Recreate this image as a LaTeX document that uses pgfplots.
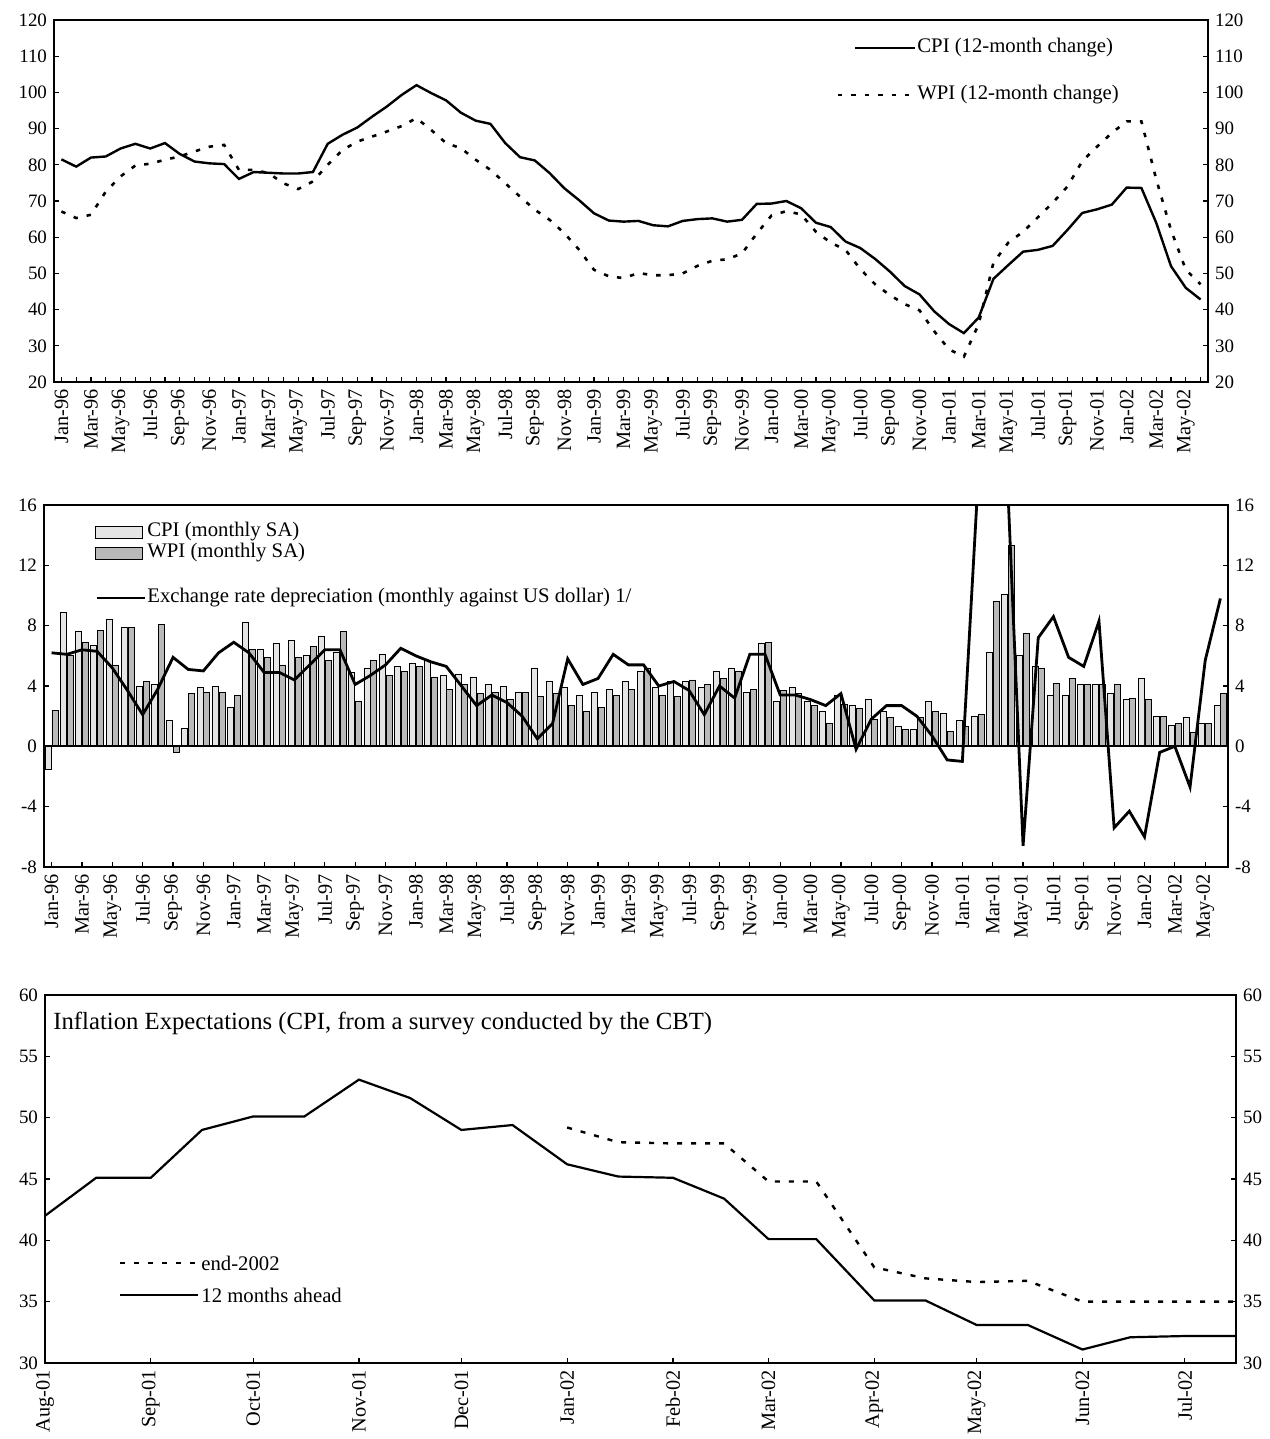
\documentclass[border=0pt]{standalone}
\usepackage{fontspec}
\setmainfont{Liberation Serif}
\usepackage{pgfplots}
\usepackage{pgfplotstable}
\pgfplotsset{compat=1.18}

\pgfplotstableread{
i cpi wpi
0 81.5 67.1
1 79.5 65.3
2 82.0 66.2
3 82.3 72.6
4 84.5 76.8
5 85.8 79.8
6 84.5 80.3
7 86.0 81.4
8 83.0 82.3
9 80.9 83.7
10 80.4 85.0
11 80.2 85.5
12 76.1 78.6
13 78.0 78.6
14 77.8 77.7
15 77.6 74.9
16 77.6 73.3
17 78.0 75.4
18 85.8 80.0
19 88.3 84.1
20 90.3 86.4
21 93.3 87.8
22 96.1 89.2
23 99.3 90.7
24 102.0 92.9
25 99.8 89.6
26 97.8 86.0
27 94.4 84.6
28 92.2 81.4
29 91.3 78.6
30 86.0 74.9
31 82.1 71.2
32 81.2 67.6
33 77.7 64.8
34 73.5 61.1
35 70.2 56.5
36 66.6 51.0
37 64.6 49.2
38 64.3 48.7
39 64.5 50.1
40 63.3 49.5
41 63.0 49.5
42 64.5 50.0
43 65.0 52.1
44 65.2 53.5
45 64.3 53.9
46 64.8 55.5
47 69.2 61.0
48 69.3 66.0
49 70.0 67.2
50 68.0 66.3
51 64.0 61.5
52 62.8 58.5
53 58.8 56.5
54 57.0 51.2
55 54.0 47.0
56 50.5 44.0
57 46.5 41.5
58 44.2 39.8
59 39.5 34.0
60 36.0 29.0
61 33.5 27.0
62 37.8 36.0
63 48.5 53.0
64 52.3 58.5
65 56.0 61.5
66 56.5 65.5
67 57.6 69.5
68 62.0 74.0
69 66.7 81.0
70 67.7 85.0
71 69.0 88.8
72 73.7 92.0
73 73.6 92.0
74 64.0 76.0
75 52.0 62.0
76 46.0 51.0
77 42.8 47.0
}\tblA

\pgfplotstableread{
i cpi wpi er
0 -1.5 2.4 6.2
1 8.9 6.0 6.1
2 7.6 6.9 6.4
3 6.7 7.7 6.3
4 8.4 5.4 5.2
5 7.9 7.9 3.7
6 4.0 4.3 2.1
7 4.1 8.1 3.8
8 1.7 -0.4 5.9
9 1.2 3.5 5.1
10 3.9 3.6 5.0
11 4.0 3.6 6.2
12 2.6 3.4 6.9
13 8.2 6.4 6.2
14 6.4 5.9 4.9
15 6.8 5.4 4.9
16 7.0 5.9 4.4
17 6.0 6.6 5.4
18 7.3 5.7 6.4
19 6.2 7.6 6.4
20 4.9 3.0 4.1
21 5.2 5.7 4.7
22 6.1 4.7 5.4
23 5.3 5.0 6.5
24 5.5 5.3 6.0
25 5.7 4.6 5.6
26 4.7 3.8 5.3
27 4.8 4.1 4.0
28 4.6 3.5 2.7
29 4.1 3.6 3.4
30 4.0 3.1 2.9
31 3.6 3.6 2.0
32 5.2 3.3 0.5
33 4.3 3.5 1.5
34 3.9 2.7 5.8
35 3.4 2.3 4.1
36 3.6 2.6 4.5
37 3.8 3.4 6.1
38 4.3 3.8 5.4
39 5.0 5.2 5.4
40 3.9 3.4 4.0
41 4.3 3.3 4.3
42 4.3 4.4 3.7
43 3.9 4.1 2.1
44 5.0 4.5 4.0
45 5.2 5.0 3.2
46 3.6 3.8 6.1
47 6.8 6.9 6.1
48 3.0 3.7 3.4
49 3.9 3.5 3.4
50 3.0 2.7 3.1
51 2.3 1.5 2.7
52 3.4 2.8 3.5
53 2.7 2.5 -0.2
54 3.1 1.8 1.8
55 2.3 1.9 2.7
56 1.3 1.1 2.7
57 1.1 1.9 2.0
58 3.0 2.3 0.7
59 2.2 1.0 -0.9
60 1.7 1.3 -1.0
61 2.0 2.1 17.0
62 6.2 9.6 35.0
63 10.1 13.3 17.0
64 6.0 7.5 -6.6
65 5.3 5.2 7.2
66 3.4 4.2 8.6
67 3.4 4.5 5.9
68 4.1 4.1 5.3
69 4.1 4.1 8.3
70 3.5 4.1 -5.4
71 3.1 3.2 -4.3
72 4.5 3.1 -6.0
73 2.0 2.0 -0.4
74 1.4 1.5 0.0
75 1.9 0.9 -2.7
76 1.5 1.5 5.7
77 2.7 3.5 9.8
}\tblB

% 12 months ahead (x = days since 1 Aug 2001)
\pgfplotstableread{
d v
0 42.0
15 45.1
31 45.1
46 49.0
61 50.1
76 50.1
92 53.1
107 51.6
122 49.0
137 49.4
153 46.2
168 45.2
184 45.1
199 43.4
212 40.1
226 40.1
243 35.1
258 35.1
273 33.1
288 33.1
304 31.1
318 32.1
334 32.2
349 32.2
}\tblC

% end-2002
\pgfplotstableread{
d v
153 49.2
168 48.0
184 47.9
199 47.9
212 44.8
226 44.8
243 37.8
258 36.9
273 36.6
288 36.7
304 35.0
318 35.0
334 35.0
349 35.0
}\tblD

\pgfplotsset{
  base/.style={
    scale only axis,
    axis line style={line width=0.9bp},
    tick style={line width=0.6bp, black},
    tick align=inside,
    /pgf/number format/assume math mode=true,
    tick label style={font=\fontsize{9.5}{10}\selectfont},
    major tick length=2.5bp, minor tick length=2.5bp,
    ytick pos=left, xtick pos=left,
  },
  rightax/.style={
    scale only axis, hide x axis, axis y line*=right,
    axis line style={line width=0.9bp},
    tick style={line width=0.6bp, black},
    tick align=inside,
    /pgf/number format/assume math mode=true,
    tick label style={font=\fontsize{9.5}{10}\selectfont},
    major tick length=2.5bp,
  },
  monthticks/.style={
    xtick={0,2,...,76},
    xticklabels={Jan-96,Mar-96,May-96,Jul-96,Sep-96,Nov-96,
      Jan-97,Mar-97,May-97,Jul-97,Sep-97,Nov-97,
      Jan-98,Mar-98,May-98,Jul-98,Sep-98,Nov-98,
      Jan-99,Mar-99,May-99,Jul-99,Sep-99,Nov-99,
      Jan-00,Mar-00,May-00,Jul-00,Sep-00,Nov-00,
      Jan-01,Mar-01,May-01,Jul-01,Sep-01,Nov-01,
      Jan-02,Mar-02,May-02},
    xticklabel style={rotate=90, anchor=east, font=\fontsize{10.2}{11}\selectfont},
  },
}

\begin{document}
\begin{tikzpicture}
\useasboundingbox (0,0) rectangle (635bp,-719.5bp);

% ---------------- Panel 1 ----------------
\begin{axis}[base, at={(27bp,-10bp)}, anchor=north west,
  width=577bp, height=181bp,
  xmin=-0.5, xmax=77.5, ymin=20, ymax=120,
  ytick={20,30,...,120}, monthticks, minor xtick={1,3,...,77}]
\addplot[black, line width=1.2bp] table[x=i,y=cpi]{\tblA};
\addplot[black, line width=1.3bp, dash pattern=on 2.2bp off 4.5bp] table[x=i,y=wpi]{\tblA};
\end{axis}
\begin{axis}[rightax, at={(27bp,-10bp)}, anchor=north west,
  width=577bp, height=181bp,
  xmin=-0.5, xmax=77.5, ymin=20, ymax=120, ytick={20,30,...,120}]
\end{axis}
\draw[black, line width=1.2bp] (427.5bp,-24bp) -- (457.5bp,-24bp);
\node[anchor=west, inner sep=0.5bp, font=\fontsize{10.4}{12}\selectfont] at (458bp,-24bp) {CPI (12-month change)};
\draw[black, line width=1.3bp, dash pattern=on 2.2bp off 4.5bp] (419bp,-47.5bp) -- (456bp,-47.5bp);
\node[anchor=west, inner sep=0.5bp, font=\fontsize{10.4}{12}\selectfont] at (458bp,-47.5bp) {WPI (12-month change)};

% ---------------- Panel 2 ----------------
\begin{axis}[base, at={(22bp,-252.5bp)}, anchor=north west,
  width=592bp, height=181bp,
  xmin=-0.5, xmax=77.5, ymin=-8, ymax=16,
  ytick={-8,-4,...,16}, monthticks]
\addplot[ybar, bar width=3bp, bar shift=-1.7bp, fill=gray!20, draw=black, line width=0.35bp] table[x=i,y=cpi]{\tblB};
\addplot[ybar, bar width=3bp, bar shift=1.7bp, fill=gray!55, draw=black, line width=0.35bp] table[x=i,y=wpi]{\tblB};
\addplot[black, line width=1bp] coordinates {(-0.5,0) (77.5,0)};
\addplot[black, line width=1.4bp] table[x=i,y=er]{\tblB};
\end{axis}
\begin{axis}[rightax, at={(22bp,-252.5bp)}, anchor=north west,
  width=592bp, height=181bp,
  xmin=-0.5, xmax=77.5, ymin=-8, ymax=16, ytick={-8,-4,...,16}]
\end{axis}
\draw[black, line width=0.35bp, fill=gray!20] (47.5bp,-263bp) rectangle (71bp,-269bp);
\node[anchor=west, inner sep=0.5bp, font=\fontsize{10.4}{12}\selectfont] at (73bp,-266bp) {CPI (monthly SA)};
\draw[black, line width=0.35bp, fill=gray!55] (47.5bp,-273.5bp) rectangle (71bp,-279.5bp);
\node[anchor=west, inner sep=0.5bp, font=\fontsize{10.4}{12}\selectfont] at (73bp,-276.5bp) {WPI (monthly SA)};
\draw[black, line width=1.4bp] (48.5bp,-299bp) -- (72.5bp,-299bp);
\node[anchor=west, inner sep=0.5bp, font=\fontsize{10.4}{12}\selectfont] at (73bp,-299bp) {Exchange rate depreciation (monthly against US dollar) 1/};

% ---------------- Panel 3 ----------------
\begin{axis}[base, at={(22.5bp,-497.5bp)}, anchor=north west,
  width=595.5bp, height=184bp,
  xmin=0, xmax=349, ymin=30, ymax=60,
  ytick={30,35,...,60},
  xtick={0,31,61,92,122,153,184,212,243,273,304,334},
  xticklabels={Aug-01,Sep-01,Oct-01,Nov-01,Dec-01,Jan-02,Feb-02,Mar-02,Apr-02,May-02,Jun-02,Jul-02},
  xticklabel style={rotate=90, anchor=east, font=\fontsize{10.2}{11}\selectfont}]
\addplot[black, line width=1.1bp] table[x=d,y=v]{\tblC};
\addplot[black, line width=1.2bp, dash pattern=on 2.5bp off 4.5bp] table[x=d,y=v]{\tblD};
\end{axis}
\begin{axis}[rightax, at={(22.5bp,-497.5bp)}, anchor=north west,
  width=595.5bp, height=184bp,
  xmin=0, xmax=349, ymin=30, ymax=60, ytick={30,35,...,60}]
\end{axis}
\node[anchor=west, inner sep=0bp, font=\fontsize{12.4}{14}\selectfont] at (26.5bp,-511.5bp) {Inflation Expectations (CPI, from a survey conducted by the CBT)};
\draw[black, line width=1.2bp, dash pattern=on 2.5bp off 4.5bp] (60bp,-631.5bp) -- (99bp,-631.5bp);
\node[anchor=west, inner sep=0.5bp, font=\fontsize{10.4}{12}\selectfont] at (100bp,-631.5bp) {end-2002};
\draw[black, line width=1.1bp] (60bp,-647.5bp) -- (99bp,-647.5bp);
\node[anchor=west, inner sep=0.5bp, font=\fontsize{10.4}{12}\selectfont] at (100bp,-647.5bp) {12 months ahead};
\end{tikzpicture}
\end{document}
